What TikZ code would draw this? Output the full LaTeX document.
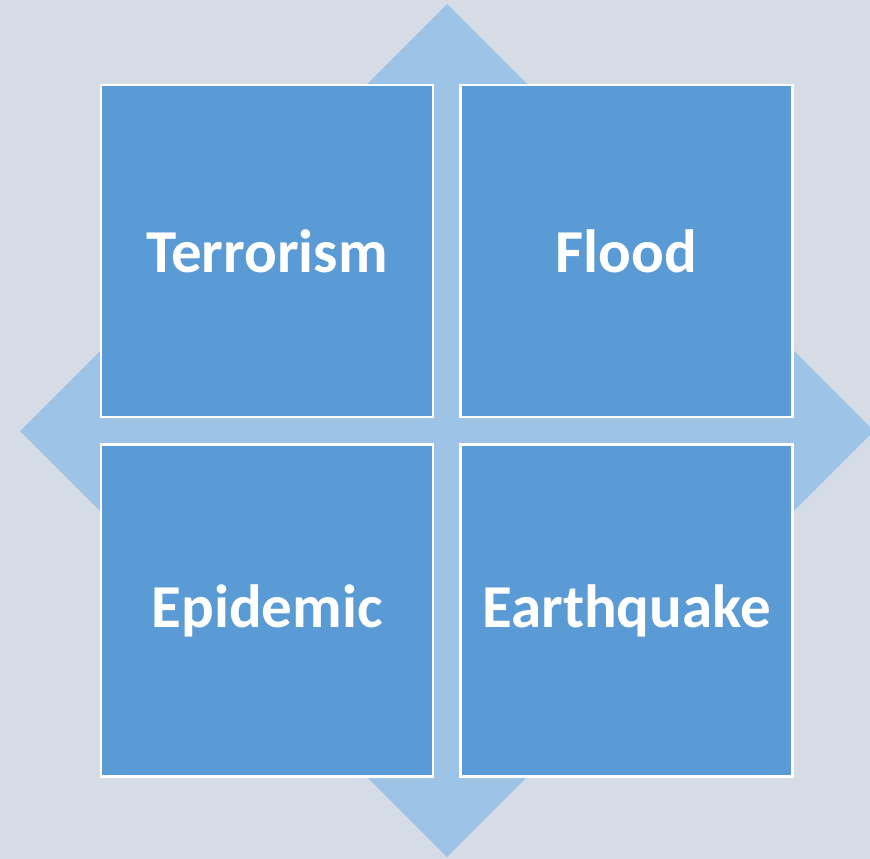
\documentclass[tikz,border=0pt]{standalone}
\usepackage{fontspec}
\setmainfont{Carlito}
\usepackage{tikz}
\usetikzlibrary{positioning}
\definecolor{backdrop}{HTML}{D6DCE5}
\definecolor{arrowblue}{HTML}{9DC3E6}
\definecolor{tileblue}{HTML}{5B9BD5}

\begin{document}
\begin{tikzpicture}[x=1pt,y=-1pt,node distance=25pt,tile/.style={draw=white, line width=2.5pt, fill=tileblue, minimum size=332pt, inner sep=0pt, text=white, font=\fontsize{61}{72}\selectfont\bfseries}]
			\useasboundingbox (0,0) rectangle (870,859);
			\fill[backdrop] (0,0) rectangle (870,859);
			
			% arrows behind the tiles
			\coordinate (top) at (447,4);
			\coordinate (left) at (20,431);
			\coordinate (bottom) at (447,857);
			\coordinate (right) at (874,431);
			\fill[arrowblue] (top) -- (left) -- (bottom) -- (right) -- cycle;
			
			\node[tile] (terrorism) at (267,251) {Terrorism};
			\node[tile] (flood) [right=of terrorism] {Flood};
			\node[tile] (epidemic) [below=of terrorism] {Epidemic};
			\node[tile] (earthquake) [right=of epidemic] {Earthquake};
			
			\end{tikzpicture}
\end{document}
